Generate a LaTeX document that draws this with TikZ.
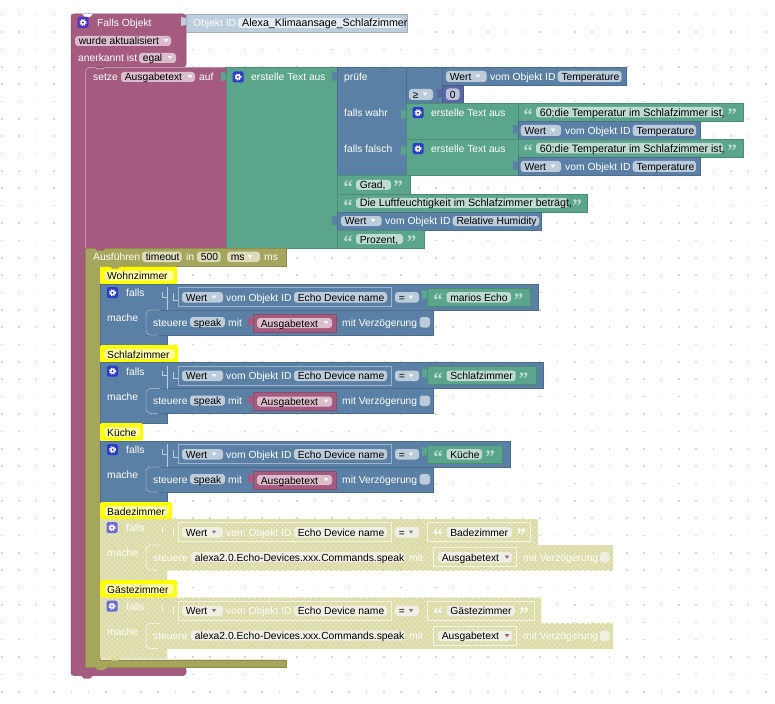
\documentclass[tikz,border=0pt]{standalone}
\usepackage{fontspec}
\setmainfont{Liberation Sans}
\newfontfamily\qfont{Liberation Serif}
\usetikzlibrary{patterns.meta}
\definecolor{pur}{HTML}{A55B80}\definecolor{purl}{HTML}{DBBDCC}
\definecolor{grn}{HTML}{5BA58C}\definecolor{grnl}{HTML}{BDDBD1}
\definecolor{blu}{HTML}{5B80A5}\definecolor{blul}{HTML}{BDCCDB}
\definecolor{oli}{HTML}{A5A55B}\definecolor{olil}{HTML}{DBDBBD}
\definecolor{ind}{HTML}{5B67A5}\definecolor{indl}{HTML}{BDC2DB}
\definecolor{shd}{HTML}{BCCDDE}\definecolor{shdl}{HTML}{E4EBF2}
\definecolor{disb}{HTML}{E3E3C9}\definecolor{disp}{HTML}{DCDC9E}\definecolor{disl}{HTML}{EFEFE3}\definecolor{dise}{HTML}{F3F3E6}
\definecolor{yel}{HTML}{FFFF00}\definecolor{yell}{HTML}{FFFFA8}
\definecolor{gearb}{HTML}{2A3CCB}\definecolor{gearp}{HTML}{4A35C4}\definecolor{geard}{HTML}{6A6AE0}
\newcounter{nid}
\newcommand{\wide}{\fontsize{10.7}{12}\selectfont}
\tikzset{
  lab/.style={anchor=west,inner sep=0pt,font=\fontsize{10.3}{12}\selectfont,text height=8pt,text depth=0pt},
  quotemark/.style={inner sep=0pt,font=\qfont\bfseries\fontsize{19}{19}\selectfont,text height=6pt,text depth=0pt},
  fieldbox/.style={rounded corners=3pt},
  edge/.style={line width=.5pt},
  disabled/.style={preaction={fill=disb},pattern={Lines[angle=45,distance=3.6pt,line width=1.2pt]},pattern color=disp,postaction={pattern={Lines[angle=-45,distance=3.6pt,line width=1.2pt]},pattern color=disp}},
}
\newcommand{\blk}[5]{\path[fill=#5,draw=#5!85!black,edge] (#1,#2) rectangle (#3,#4);}
\newcommand{\tx}[4][white]{\stepcounter{nid}\node[lab,text=#1] (n\thenid) at (#2,#3) {#4};}
\newcommand{\fdt}[6]{\path[fill=#5,fieldbox] (#1,#2) rectangle (#3,#4);\tx[black]{{#1+3.6}}{{(#2+#4)/2}}{#6}}
\newcommand{\tri}[3]{\path[fill=#3] (#1-2.2,#2-1.4) -- (#1+2.2,#2-1.4) -- (#1,#2+1.8) -- cycle;}
\newcommand{\tabl}[3]{\path[fill=#3] (#1,#2+3) -- (#1-5,#2+2) -- (#1-5,#2+11) -- (#1,#2+10) -- cycle;}
\newcommand{\bmp}[3]{\path[fill=#3] (#1-6,#2) -- (#1-3,#2+3) -- (#1+3,#2+3) -- (#1+6,#2) -- cycle;}
\newcommand{\gear}[3]{\path[fill=#3,rounded corners=1.5pt] (#1-5.5,#2-5.5) rectangle (#1+5.5,#2+5.5);
  \path[fill=white] (#1,#2) circle (2.6);\path[draw=white,line width=1.1pt,dash pattern=on 1.2pt off 1.3pt] (#1,#2) circle (3.1);\path[fill=#3] (#1,#2) circle (1.1);}
\newcommand{\qo}[3]{\stepcounter{nid}\node[quotemark,text=#3] (n\thenid) at (#1,#2+6.5) {“};}
\newcommand{\qc}[3]{\stepcounter{nid}\node[quotemark,text=#3] (n\thenid) at (#1,#2+6.5) {”};}
% yellow comment label
\newcommand{\cmt}[3]{%
  \path[fill=yel,rounded corners=1.5pt] (100,#2) rectangle (#1,#2+17.5);
  \path[fill=yel] (109,#2+17) -- (112,#2+20.5) -- (118,#2+20.5) -- (121,#2+17) -- cycle;
  \path[fill=yell,fieldbox] (104.5,#2+4) rectangle (#1-3.5,#2+14);
  \tx[black]{107}{#2+9}{#3}
}
% active if block. #1 Y, #2 right, #3 green right, #4 field end, #5 text, #6 close quote x
\newcommand{\activeif}[6]{\begin{scope}[shift={(0,#1)}]
  \path[fill=blu,draw=blu!85!black,edge] (100,0) -- (#2,0) -- (#2,26) -- (167,26) -- (167,61) -- (100,61) -- cycle;
  \blk{146}{26}{433}{51}{blu}
  \path[draw=blul,edge,rounded corners=4pt] (160,26) -- (146,26) -- (146,51) -- (158,51);
  \path[draw=blul,edge] (167,3) -- (167,26);
  \path[draw=blu!60!white,edge] (178,3.5) rectangle (391,22.5);
  \path[draw=blul,edge] (162,8) -- (162,13) -- (167,13);
  \path[draw=blul,edge] (173,9) -- (173,16) -- (178,16);
  \gear{112.5}{8.7}{gearb}
  \tx{126}{8.7}{falls}
  \tx{107}{33.7}{mache}
  \fdt{182}{8}{223}{18.5}{blul}{Wert}\tri{214}{13}{white}
  \tx{226}{13}{vom Objekt ID}
  \fdt{294}{8}{387}{18.5}{blul}{Echo Device name}
  \fdt{395}{8}{419}{18.5}{blul}{=}\tri{411}{13}{white}
  \blk{427}{4}{#3}{22}{grn}\tabl{427}{4}{grn}
  \qo{438}{13}{grnl}
  \fdt{446.5}{8}{#4}{18.5}{grnl}{#5}
  \qc{#6}{13}{grnl}
  \tx{153}{38}{steuere}
  \fdt{190}{33}{225}{43}{blul}{speak}
  \tx{228}{38}{mit}
  \blk{253}{30}{336}{48}{pur}\tabl{253}{31}{pur}
  \fdt{257}{34}{332}{44}{purl}{Ausgabetext}\tri{326}{38.5}{white}
  \tx{342}{38}{mit Verzögerung}
  \path[fill=blul,fieldbox] (419.5,33) rectangle (430,43.5);
  \bmp{115}{61}{blu}
\end{scope}}
% disabled if block
\newcommand{\disif}[5]{\begin{scope}[shift={(0,#1)}]
  \path[disabled] (100,0) -- (#2,0) -- (#2,26) -- (167,26) -- (167,61) -- (100,61) -- cycle;
  \path[disabled] (146,26) rectangle (613,51);
  \path[draw=white,edge,rounded corners=4pt] (160,26) -- (146,26) -- (146,51) -- (158,51);
  \path[draw=white,edge] (162,8) -- (162,13) (173,9) -- (173,16);
  \path[draw=dise,edge] (178,3.5) rectangle (391,22.5);
  \path[draw=dise,edge] (427,3.5) rectangle (#3,22.5);
  \path[draw=dise,edge] (433,28.5) rectangle (516,47.5);
  \gear{112}{8.7}{geard}
  \tx{126}{8.7}{falls}
  \tx{107}{33.7}{mache}
  \fdt{182}{8}{223}{18.5}{disl}{Wert}\tri{214}{13}{gray}
  \tx{226}{13}{vom Objekt ID}
  \fdt{294}{8}{387}{18.5}{disl}{Echo Device name}
  \fdt{395}{8}{419}{18.5}{disl}{=}\tri{411}{13}{gray}
  \qo{438}{13}{white}
  \fdt{446.5}{8}{#4}{18.5}{disl}{#5}
  \qc{{#4+9}}{13}{white}
  \tx{153}{38}{steuere}
  \fdt{191}{33}{405}{43}{disl}{alexa2.0.Echo-Devices.xxx.Commands.speak}
  \tx{409}{38}{mit}
  \fdt{438}{33}{512}{43.5}{disl}{Ausgabetext}\tri{507}{38}{pur}
  \tx{523}{38}{mit Verzögerung}
  \path[fill=disl,fieldbox] (600,33) rectangle (609.5,43.5);
\end{scope}}
\begin{document}
\begin{tikzpicture}[x=1pt,y=-1pt]
\useasboundingbox (0,0) rectangle (775,703);
\path[fill=white] (0,0) rectangle (775,703);
\foreach \i in {0,...,44}{\foreach \j in {0,...,39}{
  \path[fill=black!16] ({1.86+\i*17.36-.8},{14.7+\j*17.36-.8}) rectangle ++(1.6,1.6);}}
% purple hat block with arm
\path[fill=pur,draw=pur!85!black,edge,rounded corners=3pt] (71,14) -- (186,14) -- (186,67) -- (85,67) -- (85,667) -- (186,667) -- (186,675.5) -- (71,675.5) -- cycle;
\path[fill=white] (82,14) -- (85,17) -- (90,17) -- (93,14) -- cycle;
\bmp{87}{675.5}{pur}
\gear{83}{22.5}{gearp}
\tx{97}{22.7}{Falls Objekt}
\blk{186}{14}{407}{32}{shd}
\tabl{186}{15}{shd}
\tx{193}{22.7}{Objekt ID}
\path[fill=shdl,fieldbox] (238,18) rectangle (403,28);
\tx[black]{242}{23}{\wide Alexa\_Klimaansage\_Schlafzimmer}
\fdt{75}{36}{171}{46}{purl}{wurde aktualisiert}\tri{166}{40.5}{white}
\tx{78}{58}{anerkannt ist}
\fdt{139}{53}{176}{63}{purl}{egal}\tri{170}{57.5}{white}
% setze block
\blk{85}{67}{226}{248}{pur}
\path[draw=purl,edge,rounded corners=3pt] (85.5,248) -- (85.5,67.5) -- (96,67.5) -- (100,70) -- (104,67.5) -- (225,67.5);
\tx{93}{76.7}{setze}
\fdt{121}{72}{195}{82}{purl}{Ausgabetext}\tri{190}{76.5}{white}
\tx{199}{76.7}{auf}
% text join
\blk{226}{67}{337}{248}{grn}
\tabl{226}{70}{grn}
\gear{238}{77}{gearb}
\tx{251}{76.7}{erstelle Text aus}
% ternary
\blk{337}{67}{406}{175.5}{blu}
\tabl{337}{70}{blu}
\tx{344}{76.7}{prüfe}
\tx{344}{112.7}{falls wahr}
\tx{344}{148.7}{falls falsch}
% compare
\blk{406}{67}{442}{103}{blu}
\tabl{406}{70}{blu}
\fdt{409}{89}{433}{100}{blul}{≥}\tri{425}{94}{white}
% Wert temperature
\blk{442}{67}{626}{85}{blu}\tabl{442}{69}{blu}
\fdt{446}{71}{486.7}{82}{blul}{Wert}\tri{478}{76}{white}
\tx{490}{76.7}{vom Objekt ID}
\fdt{557.7}{71}{621.7}{82}{blul}{Temperature}
% number
\blk{442}{85}{463}{103}{ind}\tabl{442}{87}{ind}
\fdt{446}{88.5}{459.5}{100}{indl}{0}
% text join 1
\foreach \yy in {103,139}{
\blk{406}{\yy}{518}{\yy+36}{grn}
\tabl{406}{\yy+5}{grn}
\gear{418}{\yy+9.7}{gearb}
\tx{431}{\yy+9.7}{erstelle Text aus}
\blk{518}{\yy}{743}{\yy+18}{grn}\tabl{518}{\yy+2}{grn}
\qo{528}{\yy+9}{grnl}
\fdt{536}{\yy+4}{723}{\yy+14.5}{grnl}{\wide 60;die Temperatur im Schlafzimmer ist,}
\qc{732}{\yy+9}{grnl}
\blk{518}{\yy+18}{700}{\yy+36}{blu}\tabl{518}{\yy+20}{blu}
\fdt{520.7}{\yy+22}{561}{\yy+33}{blul}{Wert}\tri{553}{\yy+27}{white}
\tx{565}{\yy+27.7}{vom Objekt ID}
\fdt{632.7}{\yy+22}{696}{\yy+33}{blul}{Temperature}
}
% remaining text inputs
\blk{337}{175.5}{410}{194}{grn}\tabl{337}{177}{grn}
\qo{348}{184.5}{grnl}
\fdt{356}{180}{391}{190}{grnl}{Grad,}
\qc{398}{184.5}{grnl}
\blk{337}{194}{587}{212}{grn}\tabl{337}{196}{grn}
\qo{348}{202.7}{grnl}
\fdt{356}{198}{568}{208}{grnl}{\wide Die Luftfeuchtigkeit im Schlafzimmer beträgt,}
\qc{577}{202.7}{grnl}
\blk{337}{212}{541}{230}{blu}\tabl{337}{214}{blu}
\fdt{341}{216}{381.7}{226}{blul}{Wert}\tri{373}{220.5}{white}
\tx{385}{220.7}{vom Objekt ID}
\fdt{452.7}{216}{539}{226}{blul}{Relative Humidity}
\blk{337}{230}{424}{248}{grn}\tabl{337}{232}{grn}
\qo{348}{238.7}{grnl}
\fdt{356}{234}{403}{244}{grnl}{Prozent,}
\qc{411.5}{238.7}{grnl}
% Olive timeout block
\path[fill=oli,draw=oli!85!black,edge] (85,248) -- (286,248) -- (286,266) -- (100,266) -- (100,660) -- (286,660) -- (286,667) -- (85,667) -- cycle;
\path[draw=olil,edge] (100.5,266) -- (100.5,656) arc (180:90:3.5) -- (285,659.5);
\bmp{100}{247.5}{pur}
\bmp{101}{667}{oli}
\tx{93}{256.7}{Ausführen}
\fdt{142}{251.7}{181.7}{262}{olil}{timeout}
\tx{186}{256.7}{in}
\fdt{197}{251.7}{220.7}{262}{olil}{500}
\fdt{227}{251.7}{260}{262}{olil}{ms}\tri{250}{256.5}{white}
\tx{264}{256.7}{ms}
% branches
\cmt{177}{266.5}{Wohnzimmer}
\bmp{115}{265.5}{oli}
\activeif{284}{538}{530.5}{511}{marios Echo}{518.5}
\cmt{178}{345}{Schlafzimmer}
\activeif{362.5}{543}{536}{515.7}{Schlafzimmer}{523.5}
\cmt{143}{423}{Küche}
\activeif{441}{510}{502}{482}{Küche}{490}
\cmt{172}{502}{Badezimmer}
\disif{519}{538}{530}{512}{Badezimmer}
\cmt{177}{580}{Gästezimmer}
\disif{597.5}{541}{534}{515}{Gästezimmer}
\bmp{115}{657.5}{disp}
\end{tikzpicture}
\end{document}
